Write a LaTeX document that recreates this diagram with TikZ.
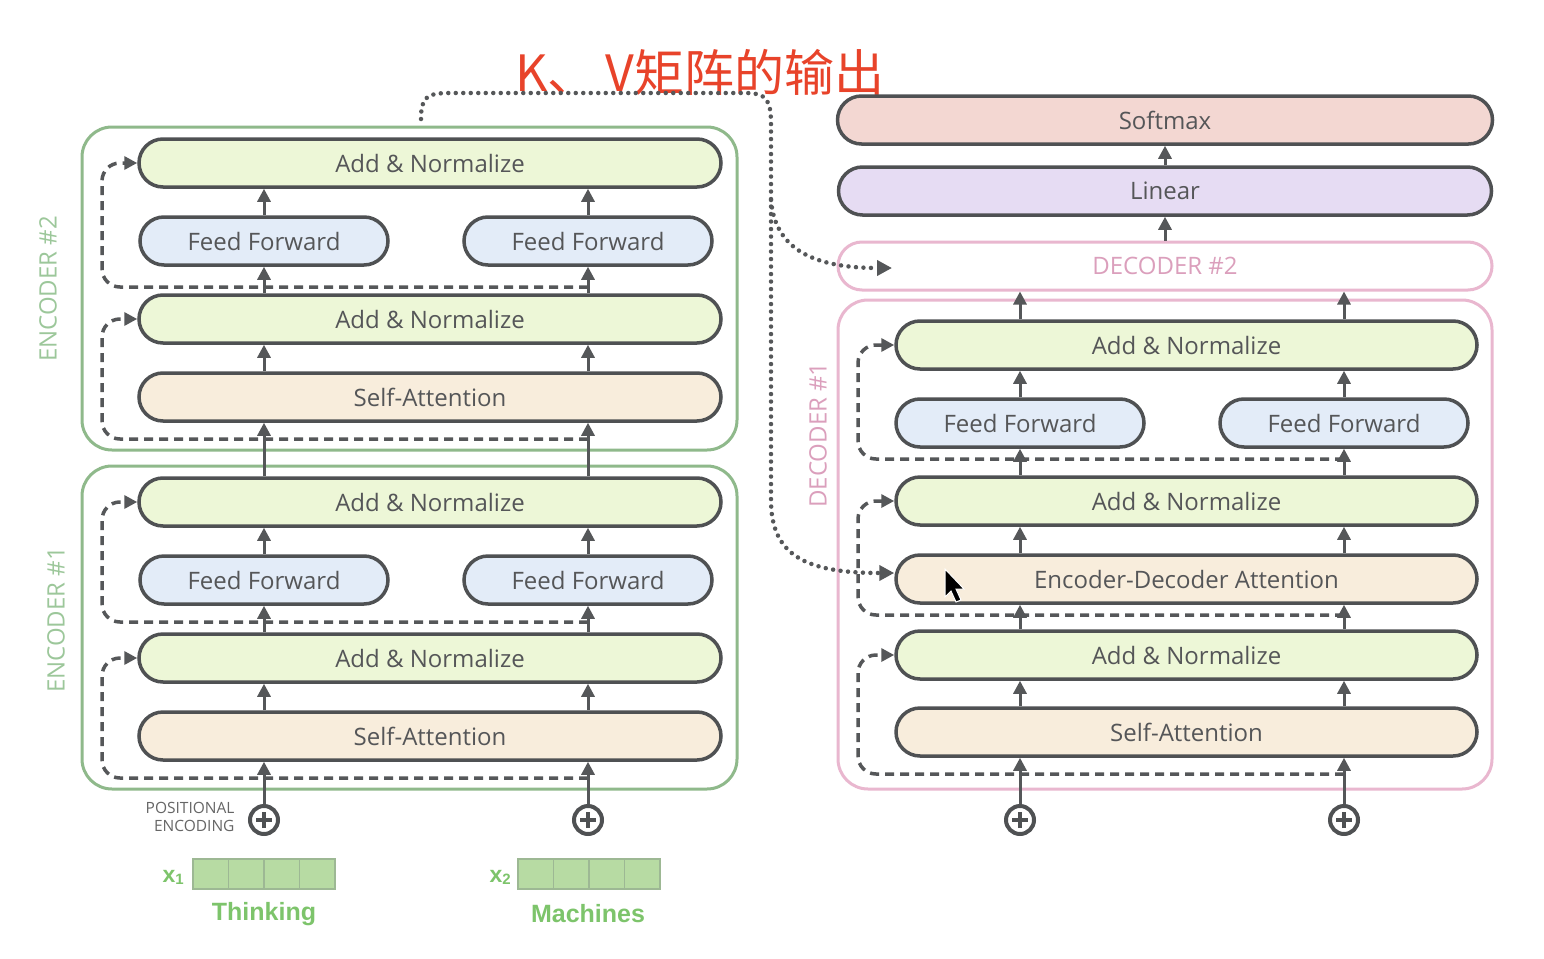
\documentclass[tikz,border=0pt]{standalone}
\usepackage{fontspec}
\setmainfont{Open Sans}
\newfontfamily\cjkfont{Noto Sans CJK SC}
\newfontfamily\arialfont{Liberation Sans}
\newcommand\heavytext[1]{\special{pdf:literal direct 2 Tr 0.7 w}#1\special{pdf:literal direct 0 Tr}}
\usetikzlibrary{arrows.meta}
\definecolor{boxline}{HTML}{4F5153}
\definecolor{arrowgray}{HTML}{555759}
\definecolor{textgray}{HTML}{555658}
\definecolor{anfill}{HTML}{EDF7D7}
\definecolor{fffill}{HTML}{E3ECF8}
\definecolor{safill}{HTML}{F8EDDC}
\definecolor{softfill}{HTML}{F3D7D2}
\definecolor{linfill}{HTML}{E6DCF3}
\definecolor{encgreen}{HTML}{8FB98B}
\definecolor{enclabel}{HTML}{9CC79A}
\definecolor{decpink}{HTML}{E9B7CF}
\definecolor{declabel}{HTML}{DB9FBC}
\definecolor{cellfill}{HTML}{B7DBA3}
\definecolor{cellline}{HTML}{9DB894}
\definecolor{inputgreen}{HTML}{7DC46B}
\definecolor{kvred}{HTML}{E8432A}
\begin{document}
\begin{tikzpicture}[x=1pt,y=-1pt,
  box/.style={draw=boxline, line width=3.5pt, rounded corners=24pt, minimum height=48pt, inner sep=0pt, font=\fontsize{24}{28}\selectfont, text=textgray, execute at begin node=\heavytext{}},
  an/.style={box, fill=anfill, minimum width=582pt},
  ff/.style={box, fill=fffill, minimum width=248pt},
  sa/.style={box, fill=safill, minimum width=582pt},
  outer/.style={line width=3pt, rounded corners=30pt, inner sep=0pt},
  arr/.style={draw=arrowgray, line width=3pt, -{Triangle[length=13pt,width=13pt]}},
  res/.style={draw=arrowgray, line width=3.5pt, dash pattern=on 9pt off 6pt, rounded corners=18pt, -{Triangle[length=13pt,width=13pt]}},
  kv/.style={draw=arrowgray, line width=4.5pt, line cap=round, dash pattern=on 0pt off 7.5pt, -{Triangle[length=15pt,width=15pt]}},
  plusc/.style={circle, draw=boxline, line width=4pt, minimum size=28pt, inner sep=0pt,
    path picture={\draw[boxline, line width=3.5pt] ([xshift=-8pt]path picture bounding box.center) -- ([xshift=8pt]path picture bounding box.center);
      \draw[boxline, line width=3.5pt] ([yshift=-8pt]path picture bounding box.center) -- ([yshift=8pt]path picture bounding box.center);}},
  cell/.style={draw=cellline, fill=cellfill, line width=1.5pt, minimum width=35.5pt, minimum height=30pt, inner sep=0pt},
  vlabel/.style={rotate=90, font=\fontsize{24}{26}\selectfont},
  inlabel/.style={font=\arialfont\bfseries\fontsize{25}{28}\selectfont, text=inputgreen}
]
\useasboundingbox[fill=white] (0,0) rectangle (1544,958);

% column coordinates
\coordinate (cL) at (264,0);
\coordinate (cR) at (588,0);
\coordinate (dL) at (1020,0);
\coordinate (dR) at (1344,0);
\coordinate (dM) at (1165,0);

% ---------------- title ----------------
\node[font=\cjkfont\fontsize{50}{54}\selectfont, text=kvred] (title) at (700,72) {K、\hspace{8pt}V矩阵的输出};

% ---------------- encoders outer ----------------
\node[outer, draw=encgreen, minimum width=655pt, minimum height=323pt] (enc2) at (409.5,288.5) {};
\node[outer, draw=encgreen, minimum width=655pt, minimum height=323pt] (enc1) at (409.5,627.5) {};
\node[vlabel, text=enclabel] (enc2lab) at (48,289) {ENCODER \#2};
\node[vlabel, text=enclabel] (enc1lab) at (56,620) {ENCODER \#1};

% encoder 2
\node[an] (e2an2) at (430,163) {Add \& Normalize};
\node[ff] (e2ffL) at (264,241) {Feed Forward};
\node[ff] (e2ffR) at (588,241) {Feed Forward};
\node[an] (e2an1) at (430,319) {Add \& Normalize};
\node[sa] (e2sa) at (430,397) {Self-Attention};
% encoder 1
\node[an] (e1an2) at (430,502) {Add \& Normalize};
\node[ff] (e1ffL) at (264,580) {Feed Forward};
\node[ff] (e1ffR) at (588,580) {Feed Forward};
\node[an] (e1an1) at (430,658) {Add \& Normalize};
\node[sa] (e1sa) at (430,736) {Self-Attention};

% positional encoding and inputs
\node[plusc] (pL) at (264,820) {};
\node[plusc] (pR) at (588,820) {};
\node[align=right, anchor=east, font=\fontsize{15.5}{18}\selectfont, text=gray!80!black] (poslab) at (238,817) {POSITIONAL\\ENCODING};

\node[cell] (x1a) at (210.75,874) {};
\node[cell] (x1b) at (246.25,874) {};
\node[cell] (x1c) at (281.75,874) {};
\node[cell] (x1d) at (317.25,874) {};
\node[cell] (x2a) at (535.75,874) {};
\node[cell] (x2b) at (571.25,874) {};
\node[cell] (x2c) at (606.75,874) {};
\node[cell] (x2d) at (642.25,874) {};
\node[text=inputgreen, font=\arialfont\bfseries, anchor=east, inner sep=0pt] (x1lab) at (184,877) {\fontsize{23}{24}\selectfont x\raisebox{-2pt}{\fontsize{15}{16}\selectfont 1}};
\node[text=inputgreen, font=\arialfont\bfseries, anchor=east, inner sep=0pt] (x2lab) at (511,877) {\fontsize{23}{24}\selectfont x\raisebox{-2pt}{\fontsize{15}{16}\selectfont 2}};
\node[inlabel] (think) at (264,914) {Thinking};
\node[inlabel] (mach) at (588,914) {Machines};

% encoder residuals
\draw[res] (588,439) -- (102,439) -- (102,319) -- (e2an1.west);
\draw[res] (588,287) -- (102,287) -- (102,163) -- (e2an2.west);
\draw[res] (588,778) -- (102,778) -- (102,658) -- (e1an1.west);
\draw[res] (588,622) -- (102,622) -- (102,502) -- (e1an2.west);

% encoder arrows
\foreach \c/\f in {cL/L,cR/R}{
  \draw[arr] (p\f.north) -- (e1sa.south -| \c);
  \draw[arr] (e1sa.north -| \c) -- (e1an1.south -| \c);
  \draw[arr] (e1an1.north -| \c) -- (e1ff\f.south);
  \draw[arr] (e1ff\f.north) -- (e1an2.south -| \c);
  \draw[arr] (e1an2.north -| \c) -- (e2sa.south -| \c);
  \draw[arr] (e2sa.north -| \c) -- (e2an1.south -| \c);
  \draw[arr] (e2an1.north -| \c) -- (e2ff\f.south);
  \draw[arr] (e2ff\f.north) -- (e2an2.south -| \c);
}

% ---------------- decoder ----------------
\node[box, fill=softfill, minimum width=655pt] (soft) at (1165,120) {Softmax};
\node[box, fill=linfill, minimum width=653pt] (lin) at (1165,191) {Linear};
\node[draw=decpink, line width=3pt, rounded corners=24pt, minimum width=654pt, minimum height=48pt, inner sep=0pt, text=declabel, font=\fontsize{24}{26}\selectfont] (dec2) at (1165,266) {DECODER \#2};
\node[outer, draw=decpink, minimum width=654pt, minimum height=489pt] (dec1) at (1165,544.5) {};
\node[vlabel, text=declabel] (dec1lab) at (818,435) {DECODER \#1};

\node[an, minimum width=581pt] (dan3) at (1186.5,345) {Add \& Normalize};
\node[ff] (dffL) at (1020,423) {Feed Forward};
\node[ff] (dffR) at (1344,423) {Feed Forward};
\node[an, minimum width=581pt] (dan2) at (1186.5,501) {Add \& Normalize};
\node[sa, minimum width=581pt] (eda) at (1186.5,579) {Encoder-Decoder Attention};
\node[an, minimum width=581pt] (dan1) at (1186.5,655) {Add \& Normalize};
\node[sa, minimum width=581pt] (dsa) at (1186.5,732) {Self-Attention};

\node[plusc] (qL) at (1020,820) {};
\node[plusc] (qR) at (1344,820) {};

% decoder residuals
\draw[res] (1344,774) -- (858,774) -- (858,655) -- (dan1.west);
\draw[res] (1344,615) -- (858,615) -- (858,501) -- (dan2.west);
\draw[res] (1344,459) -- (858,459) -- (858,345) -- (dan3.west);

% decoder arrows
\foreach \c/\f in {dL/L,dR/R}{
  \draw[arr] (q\f.north) -- (dsa.south -| \c);
  \draw[arr] (dsa.north -| \c) -- (dan1.south -| \c);
  \draw[arr] (dan1.north -| \c) -- (eda.south -| \c);
  \draw[arr] (eda.north -| \c) -- (dan2.south -| \c);
  \draw[arr] (dan2.north -| \c) -- (dff\f.south);
  \draw[arr] (dff\f.north) -- (dan3.south -| \c);
  \draw[arr] (dan3.north -| \c) -- (dec2.south -| \c);
}
\draw[arr] (dec2.north -| dM) -- (lin.south -| dM);
\draw[arr] (lin.north -| dM) -- (soft.south -| dM);

% ---------------- K, V dotted connectors ----------------
\coordinate (kvs) at (421,119);
\coordinate (kvsplit) at (771,200);
\coordinate (kvd2) at (892,268);
\draw[kv] (kvs) .. controls (421,97) and (427,93) .. (450,93) -- (745,93)
  .. controls (767,93) and (771,100) .. (771,125) -- (771,500)
  .. controls (771,555) and (805,573) .. ([yshift=6pt]eda.west);
\draw[kv] (kvsplit) .. controls (775,250) and (815,268) .. (kvd2);

% mouse cursor
\filldraw[fill=black, draw=white, line width=1pt] (945,569) -- (945,597) -- (951,591) -- (956,602) -- (961,600) -- (956,589) -- (964,589) -- cycle;
\end{tikzpicture}
\end{document}
